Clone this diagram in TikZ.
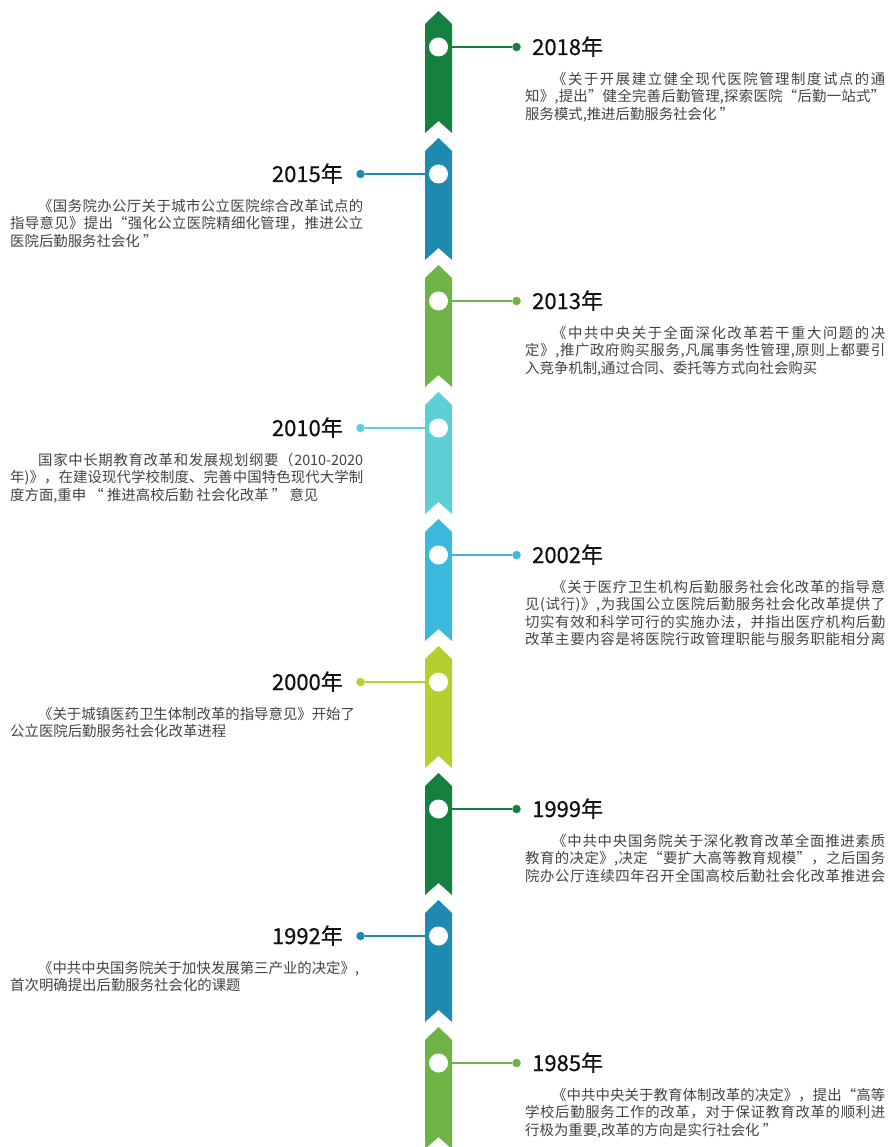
\documentclass[tikz,border=0pt]{standalone}
\usepackage{fontspec}
\setmainfont{Noto Sans CJK SC}
\newfontfamily\yearfont[FakeBold=0.5]{Noto Sans CJK SC}
\definecolor{dgreen}{HTML}{15803F}
\definecolor{dblue}{HTML}{1F8AB0}
\definecolor{lgreen}{HTML}{6DB345}
\definecolor{lcyan}{HTML}{5DCFD5}
\definecolor{sky}{HTML}{3AB9DD}
\definecolor{ygreen}{HTML}{B4D02F}
\definecolor{bodygray}{HTML}{444444}
\definecolor{yearblack}{HTML}{111111}
\newcommand\spreadchars[1]{\spreadA#1\relax}
\def\spreadA#1{\ifx\relax#1\unskip\else#1\hfil\expandafter\spreadA\fi}
\newcommand\rfull[1]{\hbox to 360pt{\spreadchars{#1}}}
\newcommand\rind[1]{\hbox to 360pt{\hspace*{27pt}\spreadchars{#1}}}
\newcommand\lfull[1]{\hbox to 353pt{\spreadchars{#1}}}
\newcommand\lind[1]{\hbox to 353pt{\hspace*{28pt}\spreadchars{#1}}}
\newcommand\bodyfont{\fontsize{14.4}{17}\selectfont}
\tikzset{
  body/.style={anchor=base west, inner sep=0pt, font=\bodyfont, text=bodygray},
  yearR/.style={anchor=base west, inner sep=0pt, font=\yearfont\fontsize{22}{26}\selectfont, text=yearblack},
  yearL/.style={anchor=base east, inner sep=0pt, font=\yearfont\fontsize{22}{26}\selectfont, text=yearblack},
  hole/.style={circle, fill=white, inner sep=0pt, minimum size=19pt},
  enddot/.style={circle, inner sep=0pt, minimum size=8.5pt},
  conn/.style={line width=2pt}
}
\begin{document}
\begin{tikzpicture}[x=1pt,y=-1pt]
\useasboundingbox (0,0) rectangle (888,1147);
\clip (0,0) rectangle (888,1147);
\fill[white] (0,0) rectangle (888,1147);
\foreach \i/\col in {1/dgreen,2/dblue,3/lgreen,4/lcyan,5/sky,6/ygreen,7/dgreen,8/dblue,9/lgreen} {
  \pgfmathsetmacro\c{47+127*(\i-1)}
  \fill[\col] (425,\c-23) -- (438.5,\c-36) -- (452,\c-23) -- (452,\c+86) -- (438.5,\c+74) -- (425,\c+86) -- cycle;
  \node[hole] (c\i) at (438.5,\c) {};
  \pgfmathtruncatemacro\odd{mod(\i,2)}
  \ifnum\odd=1
    \node[enddot, fill=\col] (d\i) at (516.5,\c) {};
  \else
    \node[enddot, fill=\col] (d\i) at (360.5,\c) {};
  \fi
  \draw[conn, \col] (c\i) -- (d\i);
}
% 2018
\node[yearR] (y1) at (532,55) {2018年};
\node[body] (t1a) at (525,84.5) {\rind{《关于开展建立健全现代医院管理制度试点的通}};
\node[body] (t1b) at (525,101.8) {\rfull{知》,提出”健全完善后勤管理,探索医院“后勤一站式”}};
\node[body] (t1c) at (525,119.1) {服务模式,推进后勤服务社会化 ”};
% 2015
\node[yearL] (y2) at (343,182) {2015年};
\node[body] (t2a) at (10,211.5) {\lind{《国务院办公厅关于城市公立医院综合改革试点的}};
\node[body] (t2b) at (10,228.8) {\lfull{指导意见》提出“强化公立医院精细化管理，推进公立}};
\node[body] (t2c) at (10,246.1) {医院后勤服务社会化 ”};
% 2013
\node[yearR] (y3) at (532,309) {2013年};
\node[body] (t3a) at (525,338.5) {\rind{《中共中央关于全面深化改革若干重大问题的决}};
\node[body] (t3b) at (525,355.8) {\rfull{定》,推广政府购买服务,凡属事务性管理,原则上都要引}};
\node[body] (t3c) at (525,373.1) {入竞争机制,通过合同、委托等方式向社会购买};
% 2010
\node[yearL] (y4) at (343,436) {2010年};
\node[body] (t4a) at (10,465.5) {\lind{国家中长期教育改革和发展规划纲要（{2010-2020}}};
\node[body] (t4b) at (10,482.8) {\lfull{年)》，在建设现代学校制度、完善中国特色现代大学制}};
\node[body] (t4c) at (10,500.1) {度方面,重申 “ 推进高校后勤 社会化改革 ” 意见};
% 2002
\node[yearR] (y5) at (532,563) {2002年};
\node[body] (t5a) at (525,592.5) {\rind{《关于医疗卫生机构后勤服务社会化改革的指导意}};
\node[body] (t5b) at (525,609.8) {\rfull{见(试行)》,为我国公立医院后勤服务社会化改革提供了}};
\node[body] (t5c) at (525,627.1) {\rfull{切实有效和科学可行的实施办法，并指出医疗机构后勤}};
\node[body] (t5d) at (525,644.4) {\rfull{改革主要内容是将医院行政管理职能与服务职能相分离}};
% 2000
\node[yearL] (y6) at (343,690) {2000年};
\node[body] (t6a) at (10,719.5) {\hspace*{28pt}《关于城镇医药卫生体制改革的指导意见》开始了};
\node[body] (t6b) at (10,736.8) {公立医院后勤服务社会化改革进程};
% 1999
\node[yearR] (y7) at (532,817) {1999年};
\node[body] (t7a) at (525,846.5) {\rind{《中共中央国务院关于深化教育改革全面推进素质}};
\node[body] (t7b) at (525,863.8) {\rfull{教育的决定》,决定“要扩大高等教育规模”，之后国务}};
\node[body] (t7c) at (525,881.1) {\rfull{院办公厅连续四年召开全国高校后勤社会化改革推进会}};
% 1992
\node[yearL] (y8) at (343,944) {1992年};
\node[body] (t8a) at (10,973.5) {\hspace*{28pt}《中共中央国务院关于加快发展第三产业的决定》,};
\node[body] (t8b) at (10,990.8) {首次明确提出后勤服务社会化的课题};
% 1985
\node[yearR] (y9) at (532,1071) {1985年};
\node[body] (t9a) at (525,1100.5) {\rind{《中共中央关于教育体制改革的决定》，提出“高等}};
\node[body] (t9b) at (525,1117.8) {\rfull{学校后勤服务工作的改革，对于保证教育改革的顺利进}};
\node[body] (t9c) at (525,1135.1) {行极为重要,改革的方向是实行社会化 ”};
\end{tikzpicture}
\end{document}
